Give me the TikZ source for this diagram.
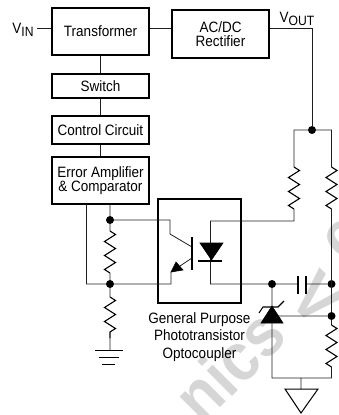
\documentclass[tikz,border=0pt]{standalone}
\usepackage{fontspec}
\setmainfont[FakeStretch=0.9]{Liberation Sans}
\usepackage{xcolor}
\usetikzlibrary{decorations.pathmorphing, positioning, calc}
\definecolor{wirecol}{RGB}{30,30,30}
\definecolor{markcol}{RGB}{214,214,214}
\newcommand{\lowtext}[1]{\raisebox{-3.5pt}{\fontsize{13.5}{14}\selectfont #1}}
\tikzset{
  block/.style={
    rectangle, draw=black, line width=1.3pt, inner sep=0pt, fill=white,
    align=center, font=\fontsize{15}{14.3}\selectfont
  },
  wire/.style={draw=wirecol, line width=0.8pt},
  solid part/.style={fill=black, draw=black, line width=0.6pt},
  bar/.style={draw=black, line width=1.4pt},
  dot/.style={circle, fill=black, inner sep=0pt, minimum size=8pt},
  label/.style={inner sep=0pt, align=center, font=\fontsize{15}{17.5}\selectfont},
  markletter/.style={text=markcol, inner sep=0pt, font=\fontsize{68}{68}\selectfont\bfseries},
  resistor/.style={
    draw=black, line width=1.1pt, decorate,
    decoration={zigzag, amplitude=5.5pt, segment length=14pt}
  },
}
\begin{document}
\begin{tikzpicture}[x=1pt, y=-1pt]
  \useasboundingbox (0,0) rectangle (338,415);
  \begin{scope}
    \clip (0,0) rectangle (338,415);
    \node[markletter, rotate=45] (markword) at (229,365) {nics};
    \node[markletter, rotate=-45] (markvee) at (317,298) {V};
    \node[markletter, rotate=45] (markcurve) at (345,240) {c};
  \end{scope}

  \node[block, minimum width=97pt, minimum height=47pt] (trans) at (100.5,31.5) {Transformer};
  \node[block, minimum width=97pt, minimum height=48pt] (rect) at (220.5,34) {AC/DC\\Rectifier};
  \node[block, minimum width=97pt, minimum height=24pt] (switch) at (100.5,86) {Switch};
  \node[block, minimum width=97pt, minimum height=28pt] (control) at (100.5,130) {Control Circuit};
  \node[block, minimum width=97pt, minimum height=47pt] (error) at (100.5,180.5) {Error Amplifier\\\& Comparator};
  \node[block, fill=none, minimum width=83pt, minimum height=104pt] (opto) at (199.5,251) {};

  \node[label] (vin) at (23,30) {V\lowtext{IN}};
  \node[label] (vout) at (297,19) {V\lowtext{OUT}};
  \node[label] (optolabel) at (199.5,337) {General Purpose\\Phototransistor\\Optocoupler};

  \coordinate (vinend) at (37,28);
  \coordinate (voutcorner) at (312,28);
  \node[dot] (topdot) at (312,130) {};
  \coordinate (ltop) at (294,130);
  \coordinate (rtop) at (331.5,130);
  \coordinate (lr1) at (294,167);
  \coordinate (lr2) at (294,209);
  \coordinate (rr1) at (331.5,167);
  \coordinate (rr2) at (331.5,209);
  \coordinate (ledtop) at (210.5,221);
  \coordinate (ledcorner) at (294,221);
  \coordinate (ledbottom) at (210.5,284);
  \node[dot] (capdot) at (272,284) {};
  \node[dot] (capright) at (331.5,284) {};
  \node[dot] (zenerdot) at (331.5,316) {};
  \coordinate (platea) at (298,284);
  \coordinate (plateb) at (306,284);
  \coordinate (r3a) at (331.5,325);
  \coordinate (r3b) at (331.5,367);
  \coordinate (gndright) at (331.5,378);
  \coordinate (gndleft) at (272,378);
  \coordinate (gndstem) at (301,378);
  \coordinate (gndtop) at (301,389);

  \node[dot] (upperdot) at (110,220) {};
  \node[dot] (lowerdot) at (110,284) {};
  \coordinate (errleft) at (86.5,204);
  \coordinate (errmid) at (110,204);
  \coordinate (leftcorner) at (86.5,284);
  \coordinate (r1a) at (110,231);
  \coordinate (r1b) at (110,273);
  \coordinate (r2a) at (110,297);
  \coordinate (r2b) at (110,338);
  \coordinate (earth) at (110,350);
  \coordinate (colcorner) at (170,220);
  \coordinate (colknee) at (170,234);
  \coordinate (colend) at (192,247);
  \coordinate (emstart) at (192,258);
  \coordinate (emknee) at (171,272);
  \coordinate (emcorner) at (171,284);

  \path[wire] (vinend) -- (trans.west |- vinend)
        (trans.east |- vinend) -- (rect.west |- vinend)
        (rect.east |- vinend) -- (voutcorner) -- (topdot)
        (trans) -- (switch) (switch) -- (control) (control) -- (error);
  \path[wire] (lr1) -- (ltop) -- (rtop) -- (rr1)
        (lr2) -- (ledcorner) -- (ledtop) -- (ledbottom) -- (capdot) -- (platea)
        (plateb) -- (capright)
        (rr2) -- (zenerdot) -- (r3a)
        (r3b) -- (gndright) -- (gndleft) -- (capdot)
        (gndstem) -- (gndtop)
        (errleft) -- (leftcorner) -- (lowerdot)
        (errmid) -- (upperdot) -- (r1a)
        (r1b) -- (lowerdot) -- (r2a)
        (r2b) -- (earth)
        (upperdot) -- (colcorner) -- (colknee) -- (colend)
        (emstart) -- (emknee) -- (emcorner) -- (lowerdot)
        (capdot |- zenerdot) -- (zenerdot);

  \draw[resistor] (lr1) -- (lr2);
  \draw[resistor] (rr1) -- (rr2);
  \draw[resistor] (r3a) -- (r3b);
  \draw[resistor] (r1a) -- (r1b);
  \draw[resistor] (r2a) -- (r2b);

  \draw[bar] (192,237) -- (192,270);
  \draw[solid part] (171,272) -- (176,262) -- (183,270) -- cycle;
  \draw[solid part] (200,243) -- (223,243) -- (211.5,260) -- cycle;
  \draw[bar] (198,261) -- (222,261);
  \draw[bar] (298,276) -- (298,294);
  \draw[bar] (306,276) -- (306,294);
  \draw[solid part] (272,306) -- (283,323) -- (261,323) -- cycle;
  \draw[line width=1.1pt] (259,313) -- (263,307) -- (278,307) -- (284,301);
  \draw[line width=1pt] (95,350) -- (123,350);
  \draw[line width=1pt] (98.5,357) -- (119,357);
  \draw[line width=1pt] (102,364) -- (115,364);
  \draw[line width=1pt] (285,389) -- (318,389) -- (301,413) -- cycle;
\end{tikzpicture}
\end{document}
